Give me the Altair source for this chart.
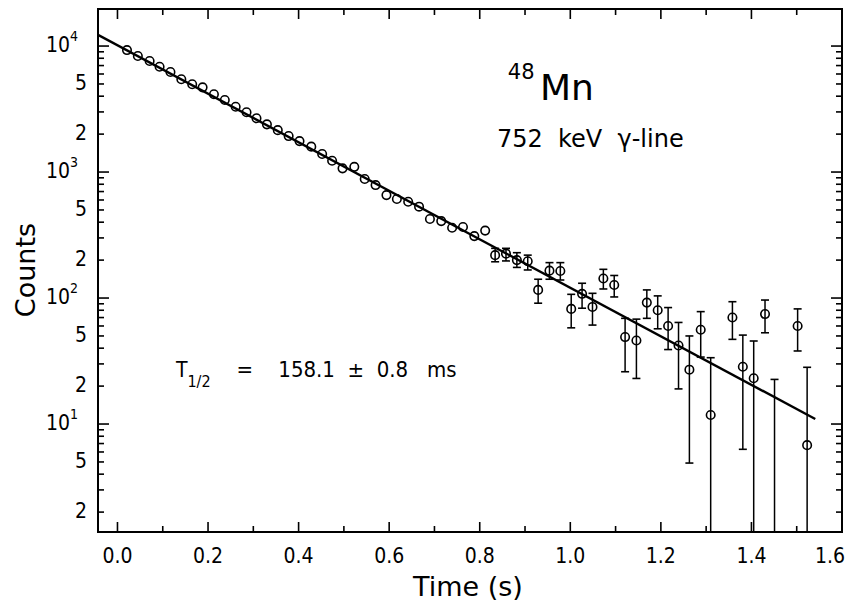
import altair as alt
import pandas as pd

# ---------------- data ----------------
time_s = [0.021, 0.045, 0.071, 0.093, 0.117, 0.141, 0.165, 0.188, 0.213, 0.237,
          0.261, 0.285, 0.307, 0.330, 0.354, 0.378, 0.402, 0.428, 0.452, 0.474,
          0.497, 0.523, 0.546, 0.570, 0.594, 0.617, 0.642, 0.666, 0.690, 0.715,
          0.739, 0.763, 0.788, 0.812, 0.834, 0.858, 0.882, 0.906, 0.929, 0.954,
          0.978, 1.002, 1.026, 1.049, 1.073, 1.097, 1.121, 1.146, 1.169, 1.193,
          1.216, 1.239, 1.263, 1.288, 1.310, 1.358, 1.381, 1.405, 1.430, 1.502,
          1.523]
counts = [9290, 8340, 7610, 6850, 6220, 5450, 4970, 4700, 4140, 3730,
          3300, 2980, 2670, 2390, 2150, 1930, 1760, 1590, 1390, 1230,
          1070, 1100, 880, 788, 656, 611, 581, 531, 424, 408,
          361, 366, 310, 343, 219, 225, 200, 196, 116, 165,
          164, 82, 108, 85, 143, 127, 49, 46, 92, 80,
          60, 42, 27, 56, 11.8, 70, 28.5, 23.1, 74.6, 60,
          6.8]

# error bars (lower value 1.0 = bar runs below the bottom of the plot)
err_time = [0.834, 0.858, 0.882, 0.906, 0.929, 0.954, 0.978, 1.002, 1.026, 1.049,
            1.073, 1.097, 1.121, 1.146, 1.169, 1.193, 1.216, 1.239, 1.263, 1.288,
            1.310, 1.358, 1.381, 1.405, 1.430, 1.451, 1.502, 1.523]
err_lo = [194, 197, 175, 167, 91, 141, 139, 58, 83, 61,
          118, 102, 26, 23, 69, 57, 39, 19, 4.9, 34,
          1.0, 47, 6.3, 1.0, 53, 1.0, 38, 1.0]
err_hi = [248, 248, 229, 219, 141, 191, 191, 107, 131, 109,
          169, 151, 69, 68, 116, 104, 84, 64, 50, 78,
          33.6, 93.5, 50.8, 45.6, 96.4, 22.6, 82, 28.2]

# fitted decay curve (straight on the log scale), end points
fit_time = [-0.042, 1.541]
fit_counts = [12220, 10.96]

# axis ticks and tick labels
x_major = [0.0, 0.2, 0.4, 0.6, 0.8, 1.0, 1.2, 1.4, 1.6]
x_major_labels = ["0.0", "0.2", "0.4", "0.6", "0.8", "1.0", "1.2", "1.4", "1.6"]
x_minor = [0.1, 0.3, 0.5, 0.7, 0.9, 1.1, 1.3, 1.5]
y_major = [10, 100, 1000, 10000]
y_major_exp = ["1", "2", "3", "4"]
y_minor = [2, 3, 4, 5, 6, 7, 8, 9,
           20, 30, 40, 50, 60, 70, 80, 90,
           200, 300, 400, 500, 600, 700, 800, 900,
           2000, 3000, 4000, 5000, 6000, 7000, 8000, 9000]
y_digit_values = [2, 5, 20, 50, 200, 500, 2000, 5000]
y_digit_labels = ["2", "5", "2", "5", "2", "5", "2", "5"]

# ---------------- chart ----------------
COND = "DejaVu Sans Condensed, DejaVu Sans, sans-serif"
SANS = "DejaVu Sans, sans-serif"
W, H = 744, 523
xscale = alt.Scale(domain=[-0.043, 1.6], nice=False, zero=False)
yscale = alt.Scale(type="log", domain=[1.39, 19680], nice=False)
NB = "\u00a0"

X = lambda f: alt.X(f, type="quantitative", scale=xscale, axis=None)
Y = lambda f: alt.Y(f, type="quantitative", scale=yscale, axis=None)

pts_df = pd.DataFrame({"t": time_s, "c": counts})
err_df = pd.DataFrame({"t": err_time, "lo": err_lo, "hi": err_hi})
fit_df = pd.DataFrame({"t": fit_time, "c": fit_counts})

fit = alt.Chart(fit_df).mark_line(color="black", strokeWidth=2.4, clip=True).encode(
    x=X("t"), y=Y("c"))

bars = alt.Chart(err_df).mark_rule(color="black", strokeWidth=1.5, clip=True).encode(
    x=X("t"), y=Y("lo"), y2="hi:Q")
cap_hi = alt.Chart(err_df).mark_tick(
    orient="horizontal", size=8, thickness=1.6, color="black", opacity=1, clip=True
).encode(x=X("t"), y=Y("hi"))
cap_lo = alt.Chart(err_df).mark_tick(
    orient="horizontal", size=8, thickness=1.6, color="black", opacity=1, clip=True
).encode(x=X("t"), y=Y("lo"))

points = alt.Chart(pts_df).mark_point(
    shape="circle", filled=False, size=72, strokeWidth=1.6, color="black", opacity=1
).encode(x=X("t"), y=Y("c"))


def xticks(vals, length):
    df = pd.DataFrame({"t": vals})
    base = alt.Chart(df).mark_rule(color="black", strokeWidth=1.6)
    return [base.encode(x=X("t"), y=alt.value(H), y2=alt.value(H - length)),
            base.encode(x=X("t"), y=alt.value(0), y2=alt.value(length))]


def yticks(vals, length):
    df = pd.DataFrame({"v": vals})
    base = alt.Chart(df).mark_rule(color="black", strokeWidth=1.6)
    return [base.encode(y=Y("v"), x=alt.value(0), x2=alt.value(length)),
            base.encode(y=Y("v"), x=alt.value(W), x2=alt.value(W - length))]


# tick labels, placed through the scales (last one kept inside the page edge)
xlab = alt.Chart(pd.DataFrame({"t": x_major[:-1], "s": x_major_labels[:-1]})).mark_text(
    font=COND, fontSize=21, align="center", baseline="alphabetic", color="black"
).encode(x=X("t"), y=alt.value(H + 31), text="s:N")
xlab_last = alt.Chart(pd.DataFrame({"t": x_major[-1:], "s": x_major_labels[-1:]})).mark_text(
    font=COND, fontSize=21, align="right", baseline="alphabetic", color="black", dx=3
).encode(x=X("t"), y=alt.value(H + 31), text="s:N")

ydig = alt.Chart(pd.DataFrame({"v": y_digit_values, "s": y_digit_labels})).mark_text(
    font=COND, fontSize=21, align="right", baseline="middle", color="black"
).encode(y=Y("v"), x=alt.value(-11), text="s:N")

dec_df = pd.DataFrame({"v": y_major, "e": y_major_exp, "b": ["10"] * len(y_major)})
ydec = alt.Chart(dec_df).mark_text(
    font=COND, fontSize=21, align="right", baseline="middle", color="black"
).encode(y=Y("v"), x=alt.value(-28), text="b:N")
yexp = alt.Chart(dec_df).mark_text(
    font=COND, fontSize=14, align="left", baseline="middle", color="black", dy=-9
).encode(y=Y("v"), x=alt.value(-28), text="e:N")

# axis titles
xtitle = alt.Chart(pd.DataFrame({"s": ["Time (s)"]})).mark_text(
    font=SANS, fontSize=27, align="center", baseline="alphabetic", color="black"
).encode(x=alt.value(370), y=alt.value(587), text="s:N")
ytitle = alt.Chart(pd.DataFrame({"s": ["Counts"]})).mark_text(
    font=SANS, fontSize=27, align="center", baseline="alphabetic", color="black",
    angle=270
).encode(x=alt.value(-63), y=alt.value(261), text="s:N")


def label(text, t, c, size, font):
    df = pd.DataFrame({"t": [t], "c": [c], "s": [text]})
    return alt.Chart(df).mark_text(
        font=font, fontSize=size, align="left", baseline="alphabetic", color="black"
    ).encode(x=X("t"), y=Y("c"), text="s:N")


texts = [
    label("48", 0.862, 5470, 21, SANS),
    label("Mn", 0.933, 3727, 36, SANS),
    label(f"752{NB}{NB}keV{NB}{NB}\u03b3-line", 0.838, 1577, 24, SANS),
    label("T", 0.129, 23.6, 21, COND),
    label("1/2", 0.1545, 19.5, 16, COND),
    label(f"={NB}{NB}{NB}{NB}158.1{NB}{NB}\u00b1{NB}{NB}0.8{NB}{NB}{NB}ms",
          0.263, 23.6, 22, COND),
]

layers = ([fit, bars, cap_hi, cap_lo, points]
          + xticks(x_major, 10) + xticks(x_minor, 6)
          + yticks(y_major, 11) + yticks(y_minor, 6)
          + [xlab, xlab_last, ydig, ydec, yexp, xtitle, ytitle]
          + texts)

chart = alt.layer(*layers).properties(
    width=W, height=H,
    autosize=alt.AutoSizeParams(type="none"),
    padding={"left": 90, "top": 1, "right": 3, "bottom": 73},
    background="white",
).configure_view(stroke="black", strokeWidth=2)

chart.save("out.html", embed_options={"renderer": "svg", "actions": False})
